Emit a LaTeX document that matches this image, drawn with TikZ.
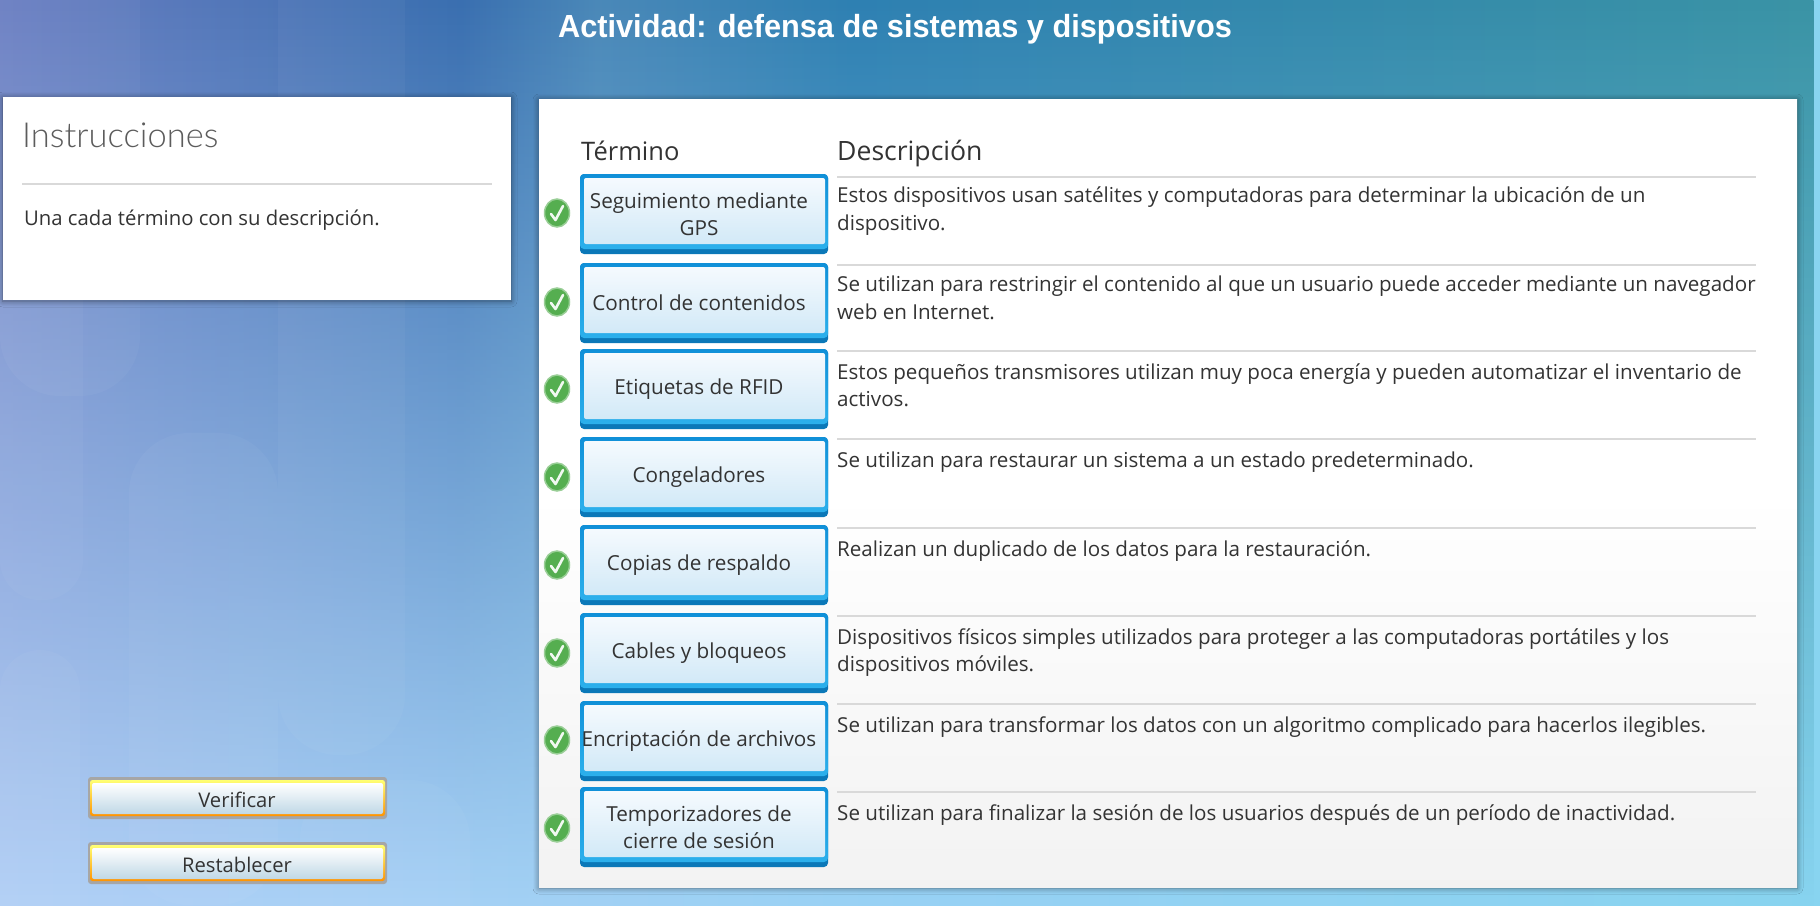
\documentclass[tikz,border=0pt]{standalone}
\usepackage{fontspec}
\setmainfont{Open Sans}
\newfontfamily\titlefont{Liberation Sans}
\newfontfamily\lightfont{Lato Light}
\usetikzlibrary{fadings,shadows.blur,shapes.geometric}
\definecolor{bgtopa}{HTML}{6B7FC2}
\definecolor{bgtopb}{HTML}{3A6FB0}
\definecolor{bgtopc}{HTML}{4A88B8}
\definecolor{bgtopd}{HTML}{2E80B2}
\definecolor{bgtope}{HTML}{3A93A5}
\definecolor{bgbota}{HTML}{B2D0F6}
\definecolor{bgbotb}{HTML}{98D2F5}
\definecolor{bgbotc}{HTML}{88D4F0}
\pgfdeclarehorizontalshading{bgtop}{100bp}{
 color(0bp)=(bgtopa); color(25bp)=(bgtopa); color(37.75bp)=(bgtopb); color(41.5bp)=(bgtopc); color(48.5bp)=(bgtopd); color(75bp)=(bgtope); color(100bp)=(bgtope)}
\pgfdeclarehorizontalshading{bgbot}{100bp}{
 color(0bp)=(bgbota); color(25bp)=(bgbota); color(50bp)=(bgbotb); color(75bp)=(bgbotc); color(100bp)=(bgbotc)}
\definecolor{inktext}{HTML}{333333}
\definecolor{rulegray}{HTML}{D9D9D9}
\definecolor{termblue}{HTML}{1090D8}
\definecolor{termlight}{HTML}{2CB0EC}
\definecolor{termdeep}{HTML}{0B78B8}
\definecolor{termtop}{HTML}{F5FAFE}
\definecolor{termbot}{HTML}{D2E9F7}
\definecolor{okgreen}{HTML}{55AE50}
\definecolor{pilllow}{HTML}{C0D8E6}
\tikzfading[name=topfade, top color=transparent!0, bottom color=transparent!100]
\tikzset{
 x=1pt,y=-1pt,
 term/.style={font=\fontsize{20.7}{27.5}\selectfont,text=inktext,align=center,anchor=center,inner sep=0pt},
 desc/.style={font=\fontsize{20.6}{27.5}\selectfont,text=inktext,align=left,anchor=north west,inner sep=0pt},
 panelrule/.style={draw=rulegray,line width=2pt},
 pill/.style={font=\fontsize{20.2}{22}\selectfont,text=inktext,anchor=center,inner sep=0pt},
 softshadow/.style={blur shadow={shadow xshift=0pt,shadow yshift=-1pt,shadow blur steps=8,shadow blur radius=6pt,shadow opacity=45}},
 bgcolumn/.style={fill=white,opacity=.035},
}
\newcommand{\termbox}[3]{% name, top y, label
 \fill[termdeep,rounded corners=4pt] (580,#2) rectangle (828,#2+80);
 \shade[top color=termblue,bottom color=termlight,rounded corners=4pt] (580,#2) rectangle (828,#2+75);
 \shade[top color=termtop,bottom color=termbot,rounded corners=2pt] (584,#2+4) rectangle (825,#2+70);
 \node[term] (#1) at (699,#2+40) {#3};
}
\newcommand{\okmark}[2]{% name, centre y
 \node[ellipse,fill=okgreen,draw=okgreen!60,line width=1.5pt,minimum width=25pt,minimum height=28pt,inner sep=0pt] (#1) at (557,#2) {};
 \draw[white!92!okgreen,line width=2.6pt,line cap=round,line join=round] (551,#2+1) -- (555.5,#2+7) -- (563,#2-7);
}
\newcommand{\descrow}[4]{% name, rule y, text offset, text
 \draw[panelrule] (837,#2) -- (1756,#2);
 \node[desc] (#1) at (837,#2+#3) {#4};
}
\newcommand{\pillbtn}[3]{% name, top y, label
 \fill[gray!70,rounded corners=3pt] (88,#2) rectangle (387,#2+42);
 \shade[top color=yellow!55!white,bottom color=orange!85!yellow,rounded corners=2.5pt] (90,#2+3) rectangle (385,#2+39);
 \shade[top color=white,bottom color=pilllow,rounded corners=2pt] (92,#2+6) rectangle (383,#2+37);
 \node[pill] (#1) at (237,#2+22.5) {#3};
}
\begin{document}
\begin{tikzpicture}
\useasboundingbox (0,0) rectangle (1820,905);
\path[shading=bgbot] (0,0) rectangle (1820,905);
\path[shading=bgtop,path fading=topfade] (0,0) rectangle (1820,905);
% faint background columns
\foreach \xa/\ya/\xb/\yb/\rr in {129/433/278/905/60,278/-60/405/755/60,0/-60/140/396/60,0/100/83/600/40,0/650/80/965/40,300/780/470/965/60}
  \fill[bgcolumn,rounded corners=\rr pt] (\xa,\ya) rectangle (\xb,\yb);
\node[font=\titlefont\bfseries\fontsize{32}{34}\selectfont,text=white,inner sep=0pt,anchor=base,xscale=.96] (title) at (895,37) {Actividad: defensa de sistemas y dispositivos};
% left panel
\fill[white,softshadow] (3,97) rectangle (511,300);
\node[font=\lightfont\fontsize{34.5}{36}\selectfont,text=inktext!80,anchor=base west,inner sep=0pt] (instr) at (22,147) {Instrucciones};
\draw[panelrule] (22,184) -- (492,184);
\node[font=\fontsize{20.3}{24}\selectfont,text=inktext,anchor=base west,inner sep=0pt] (intro) at (24,225) {Una cada término con su descripción.};
% right panel
\fill[white,softshadow] (539,99) rectangle (1797,887);
\shade[top color=white,bottom color=black!5,middle color=white] (539,99) rectangle (1797,887);
\node[font=\fontsize{25.5}{28}\selectfont,text=inktext,anchor=base west,inner sep=0pt] (hterm) at (581,160) {Término};
\node[font=\fontsize{26.6}{28}\selectfont,text=inktext,anchor=base west,inner sep=0pt] (hdesc) at (837,160) {Descripción};
\termbox{t1}{174}{Seguimiento mediante\\GPS}
\termbox{t2}{263}{Control de contenidos}
\termbox{t3}{349}{Etiquetas de RFID}
\termbox{t4}{437}{Congeladores}
\termbox{t5}{525}{Copias de respaldo}
\termbox{t6}{613}{Cables y bloqueos}
\termbox{t7}{701}{Encriptación de archivos}
\termbox{t8}{787}{Temporizadores de\\cierre de sesión}
\okmark{k1}{213}\okmark{k2}{302}\okmark{k3}{389}\okmark{k4}{477}\okmark{k5}{565}\okmark{k6}{653}\okmark{k7}{740}\okmark{k8}{828}
\descrow{d1}{177}{10}{Estos dispositivos usan satélites y computadoras para determinar la ubicación de un\\dispositivo.}
\descrow{d2}{265}{11}{Se utilizan para restringir el contenido al que un usuario puede acceder mediante un navegador\\web en Internet.}
\descrow{d3}{351}{12.5}{Estos pequeños transmisores utilizan muy poca energía y pueden automatizar el inventario de\\activos.}
\descrow{d4}{439}{12.5}{Se utilizan para restaurar un sistema a un estado predeterminado.}
\descrow{d5}{528}{12.5}{Realizan un duplicado de los datos para la restauración.}
\descrow{d6}{616}{12.5}{Dispositivos físicos simples utilizados para proteger a las computadoras portátiles y los\\dispositivos móviles.}
\descrow{d7}{704}{12.5}{Se utilizan para transformar los datos con un algoritmo complicado para hacerlos ilegibles.}
\descrow{d8}{792}{12.5}{Se utilizan para finalizar la sesión de los usuarios después de un período de inactividad.}
\pillbtn{verify}{777}{Verificar}
\pillbtn{reset}{842}{Restablecer}
\end{tikzpicture}
\end{document}
